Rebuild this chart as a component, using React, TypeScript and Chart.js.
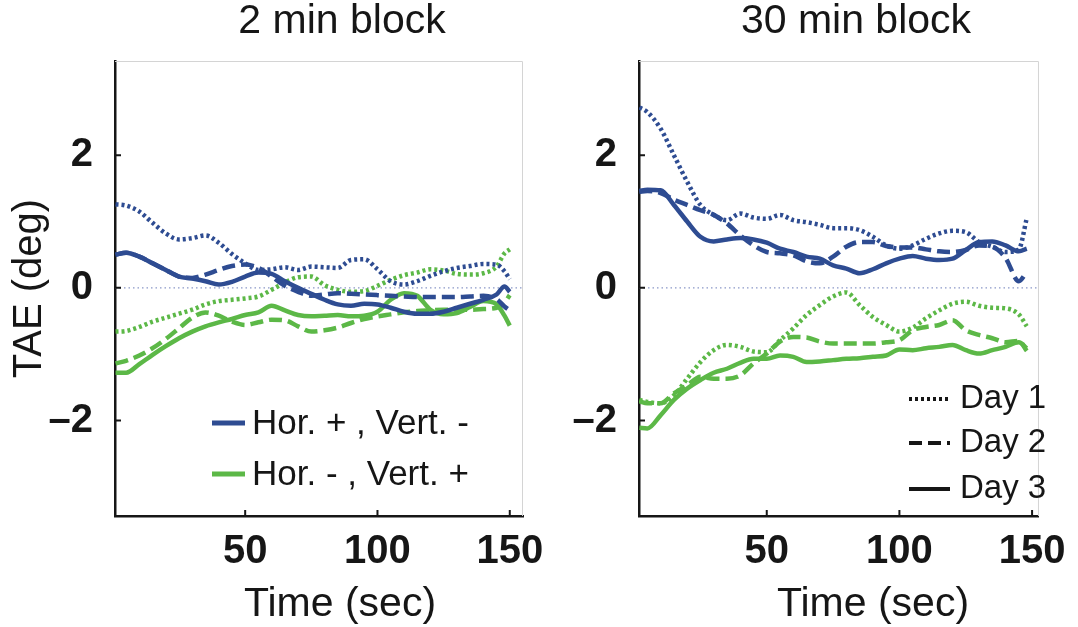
import { useEffect, useRef } from 'react';
import { Chart, registerables } from 'chart.js';

Chart.register(...registerables);

const FONT = '"Liberation Sans", Arial, Helvetica, sans-serif';
const INK = '#161616';
const BLUE = '#2e4c92';
const GREEN = '#5cb847';
const ZERO_LINE = '#8a98c8';
const FRAME = '#d4d4d4';

const DOTTED = [3, 3];
const DASHED = [13, 6];
const SOLID: number[] = [];

const Y_MIN = -3.44;
const Y_MAX = 3.42;
const Y_TICKS = [-2, 0, 2];
const X_TICKS = [50, 100, 150];

const conditionLabels = ['Hor. + , Vert. -', 'Hor. - , Vert. +'];
const dayLabels = ['Day 1', 'Day 2', 'Day 3'];

// ---- 2 min block (time in sec, TAE in deg) ----
const timeShort = [1, 5, 10, 15, 20, 25, 30, 35, 40, 45, 50, 55, 60, 65, 70, 75, 80, 85, 90, 95,
  100, 105, 110, 115, 120, 125, 130, 135, 140, 145, 148, 150];

const shortHorDay1 = [1.26, 1.24, 1.15, 0.98, 0.82, 0.73, 0.75, 0.79, 0.68, 0.51,
  0.37, 0.27, 0.28, 0.31, 0.27, 0.32, 0.31, 0.30, 0.42, 0.43,
  0.28, 0.10, 0.05, 0.10, 0.18, 0.25, 0.30, 0.33, 0.36, 0.35,
  0.25, 0.13];
const shortHorDay2 = [0.50, 0.53, 0.47, 0.37, 0.27, 0.17, 0.15, 0.20, 0.27, 0.33,
  0.35, 0.30, 0.17, 0.03, -0.06, -0.12, -0.10, -0.08, -0.09, -0.10,
  -0.11, -0.12, -0.13, -0.14, -0.14, -0.14, -0.14, -0.13, -0.12, -0.17,
  -0.28, -0.34];
const shortHorDay3 = [0.50, 0.53, 0.47, 0.37, 0.27, 0.17, 0.14, 0.10, 0.05, 0.09,
  0.17, 0.23, 0.21, 0.10, 0.00, -0.09, -0.18, -0.25, -0.27, -0.24,
  -0.25, -0.30, -0.36, -0.39, -0.39, -0.36, -0.30, -0.24, -0.18, -0.10,
  0.02, -0.06];
const shortVertDay1 = [-0.66, -0.65, -0.59, -0.51, -0.45, -0.39, -0.33, -0.25, -0.20, -0.18,
  -0.16, -0.13, -0.03, 0.08, 0.16, 0.17, 0.04, -0.03, -0.06, -0.05,
  0.03, 0.12, 0.19, 0.23, 0.28, 0.26, 0.21, 0.20, 0.22, 0.32,
  0.52, 0.58];
const shortVertDay2 = [-1.14, -1.10, -1.02, -0.91, -0.77, -0.61, -0.45, -0.37, -0.42, -0.51,
  -0.56, -0.52, -0.48, -0.49, -0.58, -0.66, -0.64, -0.60, -0.53, -0.47,
  -0.43, -0.40, -0.37, -0.35, -0.34, -0.33, -0.33, -0.33, -0.32, -0.30,
  -0.22, -0.11];
const shortVertDay3 = [-1.28, -1.28, -1.15, -1.01, -0.88, -0.76, -0.66, -0.58, -0.52, -0.47,
  -0.41, -0.37, -0.27, -0.34, -0.41, -0.43, -0.42, -0.41, -0.43, -0.42,
  -0.36, -0.18, -0.08, -0.12, -0.33, -0.40, -0.38, -0.29, -0.20, -0.25,
  -0.42, -0.57];

// ---- 30 min block ----
const timeLong = [2, 5, 10, 15, 20, 25, 30, 35, 40, 45, 50, 55, 60, 65, 70, 75, 80, 85, 90, 95,
  100, 105, 110, 115, 120, 125, 130, 135, 140, 145, 148];

const longHorDay1 = [2.72, 2.65, 2.40, 2.00, 1.60, 1.25, 1.10, 1.02, 1.12, 1.06,
  1.04, 1.10, 1.02, 0.99, 0.95, 0.90, 0.90, 0.87, 0.77, 0.64,
  0.59, 0.64, 0.74, 0.82, 0.86, 0.84, 0.69, 0.62, 0.54, 0.58,
  1.05];
const longHorDay2 = [1.45, 1.46, 1.43, 1.33, 1.25, 1.17, 1.10, 0.97, 0.79, 0.64,
  0.54, 0.52, 0.49, 0.40, 0.37, 0.47, 0.62, 0.69, 0.69, 0.63,
  0.61, 0.61, 0.58, 0.55, 0.54, 0.57, 0.64, 0.62, 0.45, 0.10,
  0.24];
const longHorDay3 = [1.46, 1.48, 1.47, 1.25, 1.00, 0.77, 0.70, 0.73, 0.75, 0.73,
  0.68, 0.59, 0.54, 0.47, 0.44, 0.34, 0.29, 0.22, 0.28, 0.37,
  0.44, 0.48, 0.44, 0.42, 0.44, 0.57, 0.69, 0.70, 0.64, 0.55,
  0.59];
const longVertDay1 = [-1.69, -1.72, -1.74, -1.62, -1.37, -1.12, -0.94, -0.86, -0.89, -0.96,
  -0.97, -0.79, -0.61, -0.41, -0.26, -0.13, -0.07, -0.26, -0.44, -0.56,
  -0.66, -0.60, -0.46, -0.34, -0.24, -0.21, -0.27, -0.30, -0.31, -0.40,
  -0.58];
const longVertDay2 = [-1.71, -1.74, -1.74, -1.59, -1.47, -1.34, -1.37, -1.37, -1.32, -1.14,
  -0.99, -0.81, -0.74, -0.75, -0.81, -0.84, -0.84, -0.84, -0.84, -0.82,
  -0.79, -0.64, -0.59, -0.56, -0.49, -0.64, -0.71, -0.76, -0.82, -0.80,
  -0.95];
const longVertDay3 = [-2.11, -2.12, -1.92, -1.69, -1.52, -1.39, -1.28, -1.22, -1.13, -1.07,
  -1.07, -1.02, -1.04, -1.12, -1.11, -1.09, -1.07, -1.06, -1.04, -1.02,
  -0.93, -0.94, -0.91, -0.89, -0.86, -0.94, -0.99, -0.94, -0.89, -0.82,
  -0.91];

type Series = { values: number[]; color: string; dash: number[] };

type PanelSpec = {
  title: string;
  times: number[];
  series: Series[];
  xMin: number;
  xMax: number;
  yAxisWidth: number;
  padRight: number;
  titleDx: number;
  xTitleDx: number;
  showYTitle: boolean;
  legend: 'condition' | 'day';
};

const shortPanel: PanelSpec = {
  title: '2 min block',
  times: timeShort,
  series: [
    { values: shortHorDay1, color: BLUE, dash: DOTTED },
    { values: shortHorDay2, color: BLUE, dash: DASHED },
    { values: shortHorDay3, color: BLUE, dash: SOLID },
    { values: shortVertDay1, color: GREEN, dash: DOTTED },
    { values: shortVertDay2, color: GREEN, dash: DASHED },
    { values: shortVertDay3, color: GREEN, dash: SOLID },
  ],
  xMin: 0.8,
  xMax: 155,
  yAxisWidth: 115,
  padRight: 37,
  titleDx: 227,
  xTitleDx: 225,
  showYTitle: true,
  legend: 'condition',
};

const longPanel: PanelSpec = {
  title: '30 min block',
  times: timeLong,
  series: [
    { values: longHorDay1, color: BLUE, dash: DOTTED },
    { values: longHorDay2, color: BLUE, dash: DASHED },
    { values: longHorDay3, color: BLUE, dash: SOLID },
    { values: longVertDay1, color: GREEN, dash: DOTTED },
    { values: longVertDay2, color: GREEN, dash: DASHED },
    { values: longVertDay3, color: GREEN, dash: SOLID },
  ],
  xMin: 1.85,
  xMax: 152.6,
  yAxisWidth: 99,
  padRight: 32,
  titleDx: 217,
  xTitleDx: 234,
  showYTitle: false,
  legend: 'day',
};

function makeDecor(p: PanelSpec) {
  return {
    id: 'panelDecor',
    beforeDatasetsDraw(chart: any) {
      const { ctx, chartArea: a } = chart;
      ctx.save();
      // light frame on the top and right sides
      ctx.strokeStyle = FRAME;
      ctx.lineWidth = 1;
      ctx.beginPath();
      ctx.moveTo(a.left, a.top + 0.5);
      ctx.lineTo(a.right - 0.5, a.top + 0.5);
      ctx.lineTo(a.right - 0.5, a.bottom);
      ctx.stroke();
      ctx.restore();
    },
    afterDraw(chart: any) {
      const { ctx, chartArea: a, scales } = chart;
      ctx.save();

      // inward tick marks
      ctx.strokeStyle = INK;
      ctx.lineWidth = 2;
      ctx.setLineDash([]);
      ctx.beginPath();
      for (const t of scales.x.ticks) {
        const px = scales.x.getPixelForValue(t.value);
        ctx.moveTo(px, a.bottom);
        ctx.lineTo(px, a.bottom - 6);
      }
      for (const t of scales.y.ticks) {
        const py = scales.y.getPixelForValue(t.value);
        ctx.moveTo(a.left, py);
        ctx.lineTo(a.left + 6, py);
      }
      ctx.stroke();

      ctx.fillStyle = INK;
      ctx.textAlign = 'center';
      ctx.textBaseline = 'middle';

      // panel title
      ctx.font = `41px ${FONT}`;
      ctx.fillText(p.title, a.left + p.titleDx, 22);

      // x-axis title
      ctx.font = `41px ${FONT}`;
      ctx.fillText('Time (sec)', a.left + p.xTitleDx, 605);

      // y-axis title
      if (p.showYTitle) {
        ctx.font = `40px ${FONT}`;
        ctx.save();
        ctx.translate(30, (a.top + a.bottom) / 2);
        ctx.rotate(-Math.PI / 2);
        ctx.fillText('TAE (deg)', 0, 0);
        ctx.restore();
      }

      // legend
      ctx.textAlign = 'left';
      if (p.legend === 'condition') {
        const colors = [BLUE, GREEN];
        ctx.font = `35px ${FONT}`;
        conditionLabels.forEach((label, i) => {
          const y = a.top + 362 + i * 51;
          ctx.strokeStyle = colors[i];
          ctx.lineWidth = 5;
          ctx.setLineDash([]);
          ctx.beginPath();
          ctx.moveTo(a.left + 97, y);
          ctx.lineTo(a.left + 130, y);
          ctx.stroke();
          ctx.fillText(label, a.left + 137, y + 1);
        });
      } else {
        const dashes = [DOTTED, DASHED, SOLID];
        const rows = [338, 382, 428];
        ctx.font = `33px ${FONT}`;
        dayLabels.forEach((label, i) => {
          const y = a.top + rows[i];
          ctx.strokeStyle = INK;
          ctx.lineWidth = 4;
          ctx.setLineDash(dashes[i]);
          ctx.beginPath();
          ctx.moveTo(a.left + 270, y);
          ctx.lineTo(a.left + 311, y);
          ctx.stroke();
          ctx.fillText(label, a.left + 321, y);
        });
      }
      ctx.restore();
    },
  };
}

function buildConfig(p: PanelSpec): any {
  const datasets: any[] = p.series.map((s) => ({
    data: p.times.map((t, i) => ({ x: t, y: s.values[i] })),
    borderColor: s.color,
    borderDash: s.dash,
    borderWidth: 4.5,
    pointRadius: 0,
    cubicInterpolationMode: 'monotone',
    fill: false,
  }));
  // dotted zero reference line
  datasets.push({
    data: [
      { x: p.xMin, y: 0 },
      { x: p.xMax, y: 0 },
    ],
    borderColor: ZERO_LINE,
    borderDash: [1.5, 3],
    borderWidth: 1.3,
    pointRadius: 0,
    fill: false,
  });

  const tickFont = { family: FONT, size: 40, weight: 'bold' as const };

  return {
    type: 'line',
    data: { datasets },
    options: {
      responsive: false,
      animation: false,
      events: [],
      layout: { padding: { top: 61, right: p.padRight, left: 0, bottom: 0 } },
      plugins: {
        legend: { display: false },
        tooltip: { enabled: false },
        title: { display: false },
      },
      scales: {
        x: {
          type: 'linear',
          min: p.xMin,
          max: p.xMax,
          afterBuildTicks: (s: any) => {
            s.ticks = X_TICKS.map((v) => ({ value: v }));
          },
          afterFit: (s: any) => {
            s.height = 111;
          },
          grid: { display: false, drawTicks: false },
          border: { display: true, color: INK, width: 2.5 },
          ticks: {
            color: INK,
            padding: 12,
            font: tickFont,
            maxRotation: 0,
            autoSkip: false,
          },
        },
        y: {
          type: 'linear',
          min: Y_MIN,
          max: Y_MAX,
          afterBuildTicks: (s: any) => {
            s.ticks = Y_TICKS.map((v) => ({ value: v }));
          },
          afterFit: (s: any) => {
            s.width = p.yAxisWidth;
          },
          grid: { display: false, drawTicks: false },
          border: { display: true, color: INK, width: 2.5 },
          ticks: {
            color: INK,
            padding: 22,
            font: tickFont,
            autoSkip: false,
            callback: (v: number) => (v < 0 ? '\u2013' + Math.abs(v) : String(v)),
          },
        },
      },
    },
    plugins: [makeDecor(p)],
  };
}

export default function App() {
  const leftRef = useRef<HTMLCanvasElement>(null);
  const rightRef = useRef<HTMLCanvasElement>(null);

  useEffect(() => {
    const charts = [
      new Chart(leftRef.current as HTMLCanvasElement, buildConfig(shortPanel)),
      new Chart(rightRef.current as HTMLCanvasElement, buildConfig(longPanel)),
    ];
    return () => charts.forEach((c) => c.destroy());
  }, []);

  return (
    <div style={{ position: 'fixed', left: 0, top: 0, width: 1078, height: 627, background: '#fff' }}>
      <canvas ref={leftRef} width={560} height={627} style={{ position: 'absolute', left: 0, top: 0 }} />
      <canvas ref={rightRef} width={538} height={627} style={{ position: 'absolute', left: 540, top: 0 }} />
    </div>
  );
}
